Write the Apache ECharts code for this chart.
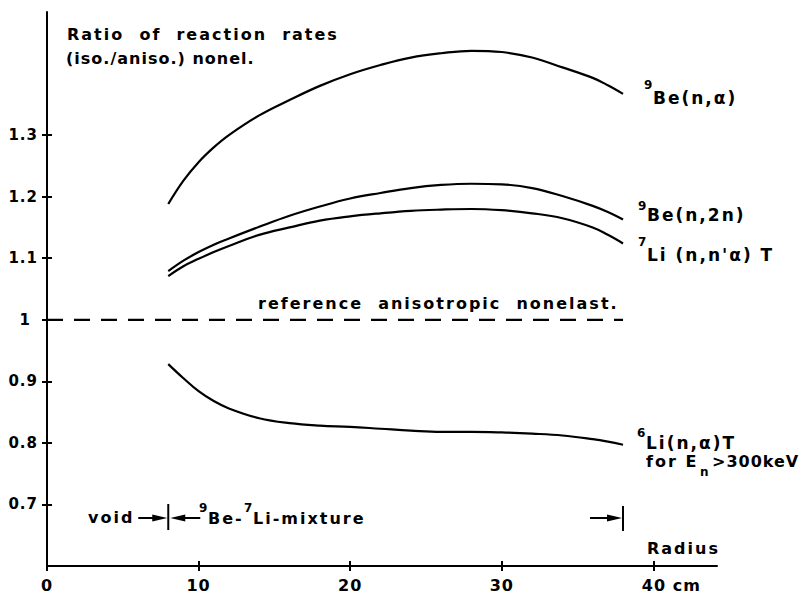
<!DOCTYPE html>
<html><head><meta charset="utf-8">
<script src="https://cdn.jsdelivr.net/npm/echarts@6/dist/echarts.min.js"></script>
<style>
html,body{margin:0;padding:0;background:#fff}
#c{width:806px;height:596px}
#c text{white-space:pre;letter-spacing:1px}
#c text[style*="Verdana"]{letter-spacing:2px}
#c text[style*="Tahoma"]{letter-spacing:1px}
</style></head><body><div id="c"></div>
<script>
// ---- data ----
const radius = [8, 9, 10, 11, 12, 14, 16, 18, 20, 22, 24, 26, 28, 30, 32, 34, 36, 37, 38];
const be9_n_alpha = [1.188, 1.226, 1.256, 1.280, 1.300, 1.332, 1.357, 1.380, 1.399, 1.414, 1.426, 1.433, 1.437, 1.435, 1.426, 1.410, 1.393, 1.381, 1.367];
const be9_n_2n    = [1.079, 1.096, 1.110, 1.122, 1.132, 1.151, 1.169, 1.184, 1.197, 1.206, 1.214, 1.219, 1.221, 1.220, 1.214, 1.201, 1.185, 1.175, 1.163];
const li7_nna_T   = [1.071, 1.087, 1.099, 1.110, 1.120, 1.138, 1.150, 1.161, 1.168, 1.173, 1.177, 1.179, 1.180, 1.178, 1.173, 1.165, 1.150, 1.138, 1.124];
const li6_na_T    = [0.928, 0.905, 0.884, 0.868, 0.856, 0.840, 0.832, 0.828, 0.826, 0.823, 0.820, 0.818, 0.818, 0.817, 0.815, 0.812, 0.806, 0.802, 0.797];
const referenceLine = [[0, 1], [38, 1]];
const regionBounds = [8, 38]; // void / mixture boundary, outer edge
const xTicks = [0, 10, 20, 30, 40];
const yTicks = [0.7, 0.8, 0.9, 1.0, 1.1, 1.2, 1.3];

const FN = 'DejaVu Sans';
const FA = 'DejaVu Sans, Verdana';  // wide spaced lettering
const FB = 'DejaVu Sans, Tahoma';   // medium spaced lettering

const chart = echarts.init(document.getElementById('c'), null, {renderer: 'svg', width: 806, height: 596});

function curve(name, vals) {
  return {
    name, type: 'line', data: radius.map((r, i) => [r, vals[i]]),
    smooth: 0.4, symbol: 'none', silent: true,
    lineStyle: {color: '#000', width: 2.2}
  };
}

const xAxisBase = {type: 'value', min: 0, max: 44.2, splitLine: {show: false}};
const yAxisBase = {type: 'value', min: 0.6, max: 1.5, splitLine: {show: false}};

chart.setOption({
  animation: false,
  backgroundColor: '#fff',
  grid: {left: 47, top: 12, width: 670, height: 554, containLabel: false},
  xAxis: [
    Object.assign({}, xAxisBase, {
      axisLine: {lineStyle: {color: '#000', width: 2}},
      axisTick: {customValues: xTicks, length: 5, lineStyle: {color: '#000', width: 2}},
      axisLabel: {
        customValues: xTicks, margin: 11, color: '#000', fontSize: 16, fontWeight: 'bold', fontFamily: FN,
        formatter: v => v === 40 ? '{p|}40 cm' : String(v),
        rich: {p: {width: 36}}
      }
    }),
    Object.assign({}, xAxisBase, {
      position: 'bottom',
      axisLine: {show: false},
      axisTick: {inside: true, customValues: xTicks, length: 5, lineStyle: {color: '#000', width: 2}},
      axisLabel: {show: false}
    })
  ],
  yAxis: [
    Object.assign({}, yAxisBase, {
      axisLine: {lineStyle: {color: '#000', width: 2}},
      axisTick: {customValues: yTicks, length: 5, lineStyle: {color: '#000', width: 2}},
      axisLabel: {
        customValues: yTicks, margin: 9, color: '#000', fontSize: 15, fontWeight: 'bold', fontFamily: FN,
        formatter: v => Math.abs(v - 1) < 1e-9 ? '{o|1}' : v.toFixed(1),
        rich: {o: {padding: [0, 7, 0, 0], fontSize: 15, fontWeight: 'bold', fontFamily: FN, color: '#000'}}
      }
    }),
    Object.assign({}, yAxisBase, {
      position: 'left',
      axisLine: {show: false},
      axisTick: {inside: true, customValues: yTicks, length: 5, lineStyle: {color: '#000', width: 2}},
      axisLabel: {show: false}
    })
  ],
  series: [
    curve('9Be(n,α)', be9_n_alpha),
    curve('9Be(n,2n)', be9_n_2n),
    curve("7Li(n,n'α)T", li7_nna_T),
    curve('6Li(n,α)T', li6_na_T),
    {
      name: 'reference', type: 'line', data: referenceLine, symbol: 'none', silent: true,
      lineStyle: {color: '#000', width: 2.2, type: [16, 11]}
    }
  ]
});

const bx = chart.convertToPixel({xAxisIndex: 0}, regionBounds[0]);
const ex = chart.convertToPixel({xAxisIndex: 0}, regionBounds[1]);

function T(text, x, y, size, fam) {
  return {type: 'text', x, y, silent: true,
    style: {text, fontSize: size, fontFamily: fam, fontWeight: 'bold', fill: '#000', align: 'left', verticalAlign: 'middle'}};
}
function L(x1, y1, x2, y2) {
  return {type: 'line', silent: true, shape: {x1, y1, x2, y2}, style: {stroke: '#000', lineWidth: 2}};
}
function P(points) {
  return {type: 'polygon', silent: true, shape: {points}, style: {fill: '#000'}};
}
const ay = 518;
chart.setOption({
  graphic: [
    T('Ratio  of  reaction  rates', 67, 34, 16, FA),
    T('(iso./aniso.) nonel.', 66, 58, 16, FB),
    T('reference  anisotropic  nonelast.', 258, 303, 16, FA),
    T('9', 644, 85, 12, FN), T('Be(n,α)', 653, 98, 17, FA),
    T('9', 638, 206, 12, FN), T('Be(n,2n)', 647, 215, 17, FA),
    T('7', 638, 242, 12, FN), T("Li (n,n'α) T", 647, 255, 17, FA),
    T('6', 637, 433, 12, FN), T('Li(n,α)T', 646, 443, 17, FA),
    T('for E', 646, 461, 16, FA), T('n', 700, 472, 12, FN), T('>300keV', 712, 461, 16, FB),
    T('void', 88, 517, 16, FA),
    T('9', 199, 508, 12, FN), T('Be-', 208, 518, 16, FA),
    T('7', 244, 508, 12, FN), T('Li-mixture', 253, 518, 16, FA),
    T('Radius', 647, 548, 16, FA),
    // void arrow -> boundary
    L(bx - 30, ay, bx - 12, ay), P([[bx - 16, ay - 3.5], [bx - 1, ay], [bx - 16, ay + 3.5]]),
    L(bx, ay - 14, bx, ay + 12),
    // boundary <- mixture arrow
    P([[bx + 2, ay], [bx + 17, ay - 3.5], [bx + 17, ay + 3.5]]), L(bx + 14, ay, bx + 32, ay),
    // outer edge arrow
    L(ex - 33, ay, ex - 14, ay), P([[ex - 16, ay - 3.5], [ex - 1, ay], [ex - 16, ay + 3.5]]),
    L(ex, ay - 12, ex, ay + 13)
  ]
});
</script></body></html>
